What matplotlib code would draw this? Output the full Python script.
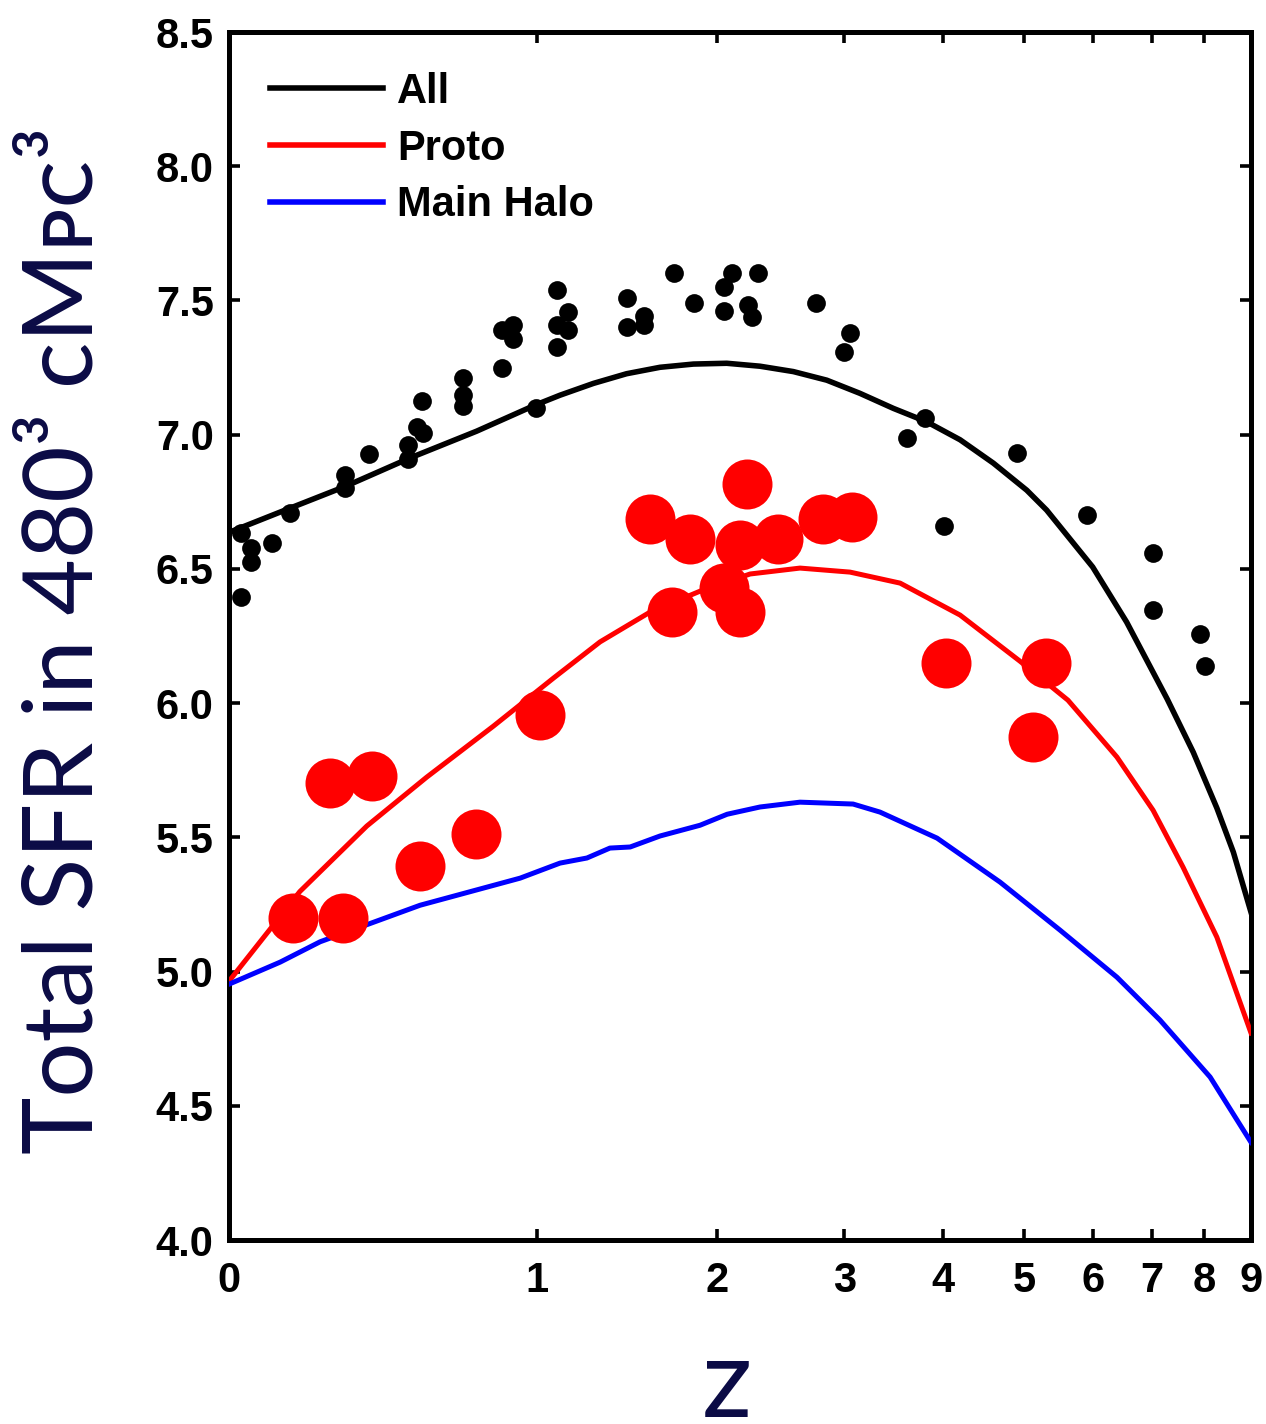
import numpy as np
import matplotlib
matplotlib.use('Agg')
import matplotlib.pyplot as plt
from matplotlib.ticker import FixedLocator, NullLocator

# model curves: total SFR vs redshift
z_all = [0, 0.147, 0.299, 0.503, 0.747, 0.993, 1.108, 1.273, 1.449, 1.641, 1.847, 2.069,
         2.308, 2.566, 2.845, 3.143, 3.467, 3.816, 4.192, 4.596, 5.034, 5.31, 6.0, 6.556,
         7.28, 7.78, 8.26, 8.61, 9.0]
sfr_all = [6.636, 6.726, 6.807, 6.913, 7.013, 7.110, 7.147, 7.191, 7.227, 7.251, 7.263, 7.266,
           7.255, 7.235, 7.203, 7.154, 7.098, 7.048, 6.981, 6.894, 6.793, 6.719, 6.507, 6.302,
           6.015, 5.817, 5.609, 5.445, 5.221]

z_proto = [0, 0.173, 0.364, 0.561, 0.814, 1.077, 1.307, 1.582, 1.890, 2.235, 2.620,
           3.052, 3.536, 4.192, 4.943, 5.62, 6.393, 7.02, 7.58, 8.26, 9.0]
sfr_proto = [4.964, 5.298, 5.542, 5.724, 5.914, 6.093, 6.228, 6.339, 6.417, 6.481, 6.503,
             6.488, 6.447, 6.328, 6.156, 6.011, 5.799, 5.601, 5.389, 5.128, 4.771]

z_main = [0, 0.122, 0.228, 0.538, 0.927, 1.108, 1.240, 1.359, 1.469, 1.641, 1.890, 2.072,
          2.308, 2.620, 3.080, 3.335, 3.930, 4.682, 5.505, 6.393, 7.147, 8.12, 9.0]
sfr_main = [4.953, 5.035, 5.111, 5.247, 5.348, 5.404, 5.423, 5.460, 5.464, 5.505, 5.545, 5.586,
            5.613, 5.631, 5.624, 5.594, 5.497, 5.333, 5.154, 4.979, 4.819, 4.607, 4.364]

# individual measurements (small black) and protocluster values (large red)
z_obs = [0.027, 0.051, 0.051, 0.101, 0.027, 0.147, 0.299, 0.299, 0.371, 0.498, 0.498,
         0.526, 0.549, 0.546, 0.696, 0.696, 0.696, 0.848, 0.848, 0.897, 0.897, 0.996,
         1.096, 1.096, 1.096, 1.148, 1.148, 1.449, 1.449, 1.547, 1.547, 1.727, 1.851,
         2.104, 2.050, 2.050, 2.296, 2.222, 2.251, 2.753, 3.052, 3.0, 3.797, 3.604,
         4.008, 4.906, 5.907, 7.013, 7.013, 7.915, 8.02]
sfr_obs = [6.633, 6.576, 6.525, 6.595, 6.396, 6.707, 6.849, 6.800, 6.928, 6.961, 6.909,
           7.029, 7.007, 7.126, 7.212, 7.148, 7.108, 7.247, 7.390, 7.408, 7.355, 7.098,
           7.539, 7.408, 7.325, 7.458, 7.390, 7.510, 7.400, 7.442, 7.408, 7.601, 7.489,
           7.601, 7.551, 7.460, 7.601, 7.483, 7.439, 7.489, 7.380, 7.309, 7.061, 6.986,
           6.659, 6.930, 6.700, 6.558, 6.346, 6.256, 6.138]

z_pc = [0.155, 0.293, 0.255, 0.380, 0.538, 0.745, 1.015, 1.582, 1.714, 1.826, 2.050,
        2.162, 2.162, 2.213, 2.445, 2.813, 3.071, 4.030, 5.30, 5.12]
sfr_pc = [5.199, 5.199, 5.702, 5.728, 5.393, 5.512, 5.955, 6.686, 6.339, 6.611, 6.428,
          6.589, 6.339, 6.816, 6.611, 6.686, 6.693, 6.149, 6.149, 5.873]

z_ticks = [0, 1, 2, 3, 4, 5, 6, 7, 8, 9]
sfr_ticks = [4.0, 4.5, 5.0, 5.5, 6.0, 6.5, 7.0, 7.5, 8.0, 8.5]

NAVY = '#0b0b45'
tick_font = {'family': 'Liberation Sans', 'weight': 'bold', 'size': 30}

def fwd(z):
    return np.log10(1 + np.asarray(z, dtype=float))

def inv(x):
    return 10 ** np.asarray(x, dtype=float) - 1

fig = plt.figure(figsize=(12.66, 14.24), dpi=100)
ax = fig.add_axes([229/1266, 1 - 1240/1424, 1022/1266, 1208/1424])
ax.set_xscale('function', functions=(fwd, inv))

ax.plot(z_all, sfr_all, color='black', linewidth=4, label='All', zorder=3,
        solid_joinstyle='round')
ax.plot(z_proto, sfr_proto, color='#ff0000', linewidth=3.6, label='Proto', zorder=3,
        solid_joinstyle='round')
ax.plot(z_main, sfr_main, color='#0000ff', linewidth=3.6, label='Main Halo', zorder=3,
        solid_joinstyle='round')
ax.plot(z_obs, sfr_obs, 'o', color='black', markersize=13.5, markeredgewidth=0, zorder=4)
ax.plot(z_pc, sfr_pc, 'o', color='#ff0000', markersize=36, markeredgewidth=0, zorder=5)

ax.set_xlim(0, 9)
ax.set_ylim(4.0, 8.5)
ax.xaxis.set_major_locator(FixedLocator(z_ticks))
ax.xaxis.set_minor_locator(NullLocator())
ax.yaxis.set_major_locator(FixedLocator(sfr_ticks))
ax.set_xticklabels([str(t) for t in z_ticks], fontdict=tick_font)
ax.set_yticklabels(['%.1f' % t for t in sfr_ticks], fontdict=tick_font)
ax.tick_params(axis='both', direction='in', length=8, width=2.6,
               top=True, right=True, color='black')
ax.tick_params(axis='x', pad=15)
ax.tick_params(axis='y', pad=11)
for spine in ax.spines.values():
    spine.set_linewidth(3.6)

leg = ax.legend(loc='upper left', bbox_to_anchor=(41/1022, 1 - 40/1208), frameon=False,
                prop={'family': 'Liberation Sans', 'weight': 'bold', 'size': 30},
                handlelength=2.7, handletextpad=0.35, labelspacing=0.4,
                borderpad=0, borderaxespad=0)
for line in leg.get_lines():
    line.set_linewidth(4)

fig.text(66/1266, 1 - 640/1424, 'Total SFR in 480\u00b3 cM\u1d18\u1d04\u00b3', rotation=90,
         ha='center', va='center', color=NAVY, fontsize=70,
         family=['Lato', 'DejaVu Sans'])
fig.text(727/1266, 1 - 1386/1424, 'z', ha='center', va='center', color=NAVY,
         fontsize=80, family=['Lato', 'DejaVu Sans'])

fig.savefig('out.png', dpi=100)
